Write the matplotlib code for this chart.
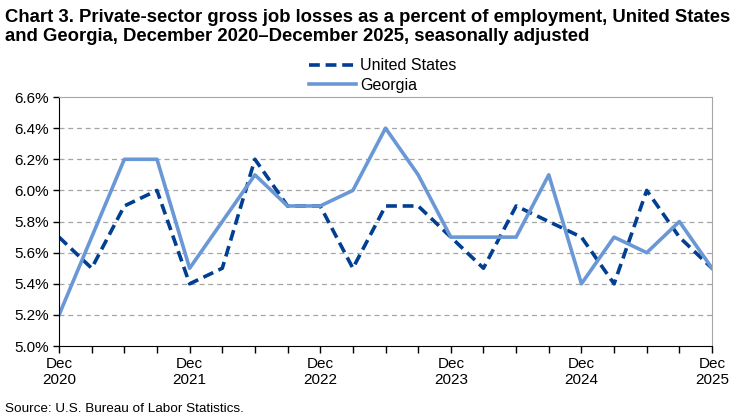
import matplotlib
matplotlib.use("Agg")
import matplotlib.pyplot as plt
from matplotlib.ticker import FuncFormatter

plt.rcParams['font.family'] = ['Liberation Sans', 'DejaVu Sans']

quarters = list(range(21))
us = [5.7, 5.5, 5.9, 6.0, 5.4, 5.5, 6.2, 5.9, 5.9, 5.5, 5.9,
      5.9, 5.7, 5.5, 5.9, 5.8, 5.7, 5.4, 6.0, 5.7, 5.5]
ga = [5.2, 5.7, 6.2, 6.2, 5.5, 5.8, 6.1, 5.9, 5.9, 6.0, 6.4,
      6.1, 5.7, 5.7, 5.7, 6.1, 5.4, 5.7, 5.6, 5.8, 5.5]
tick_pos = [0, 4, 8, 12, 16, 20]
tick_labels = ['Dec\n2020', 'Dec\n2021', 'Dec\n2022', 'Dec\n2023', 'Dec\n2024', 'Dec\n2025']
yticks = [5.0, 5.2, 5.4, 5.6, 5.8, 6.0, 6.2, 6.4, 6.6]

fig = plt.figure(figsize=(7.51, 4.2), dpi=100)
ax = fig.add_axes([0.0786, 0.176, 0.8695, 0.593])

ax.plot(quarters, us, color='#003f91', lw=2.6, linestyle=(0, (3, 1.6)), label='United States')
ax.plot(quarters, ga, color='#6a98d6', lw=2.6, label='Georgia')

ax.set_xlim(0, 20)
ax.set_ylim(5.0, 6.6)
ax.set_yticks(yticks)
ax.yaxis.set_major_formatter(FuncFormatter(lambda v, p: f'{v:.1f}%'))
ax.set_xticks(quarters, minor=True)
ax.set_xticks(tick_pos)
ax.set_xticklabels(tick_labels)
ax.tick_params(axis='x', which='both', direction='out', length=5, width=1, labelsize=11, pad=3)
ax.tick_params(axis='y', direction='out', length=4, width=1, labelsize=11, pad=3)

for y in yticks[1:-1]:
    ax.axhline(y, color='#a6a6a6', lw=0.9, linestyle=(0, (4, 3)), zorder=0)

ax.spines['left'].set_color('black')
ax.spines['bottom'].set_color('black')
ax.spines['top'].set_color('#a6a6a6')
ax.spines['right'].set_color('#a6a6a6')

fig.text(0.007, 0.978, 'Chart 3. Private-sector gross job losses as a percent of employment, United States\n'
         'and Georgia, December 2020\u2013December 2025, seasonally adjusted',
         fontsize=13.3, fontweight='bold', ha='left', va='top', linespacing=1.15)

fig.legend(loc='center', bbox_to_anchor=(0.51, 0.82), ncol=1, frameon=False, fontsize=11.5,
           handlelength=2.9, handletextpad=0.3, labelspacing=0.3, borderpad=0)

fig.text(0.007, 0.012, 'Source: U.S. Bureau of Labor Statistics.', fontsize=9.7, ha='left', va='bottom')

fig.savefig('out.png', dpi=100)
